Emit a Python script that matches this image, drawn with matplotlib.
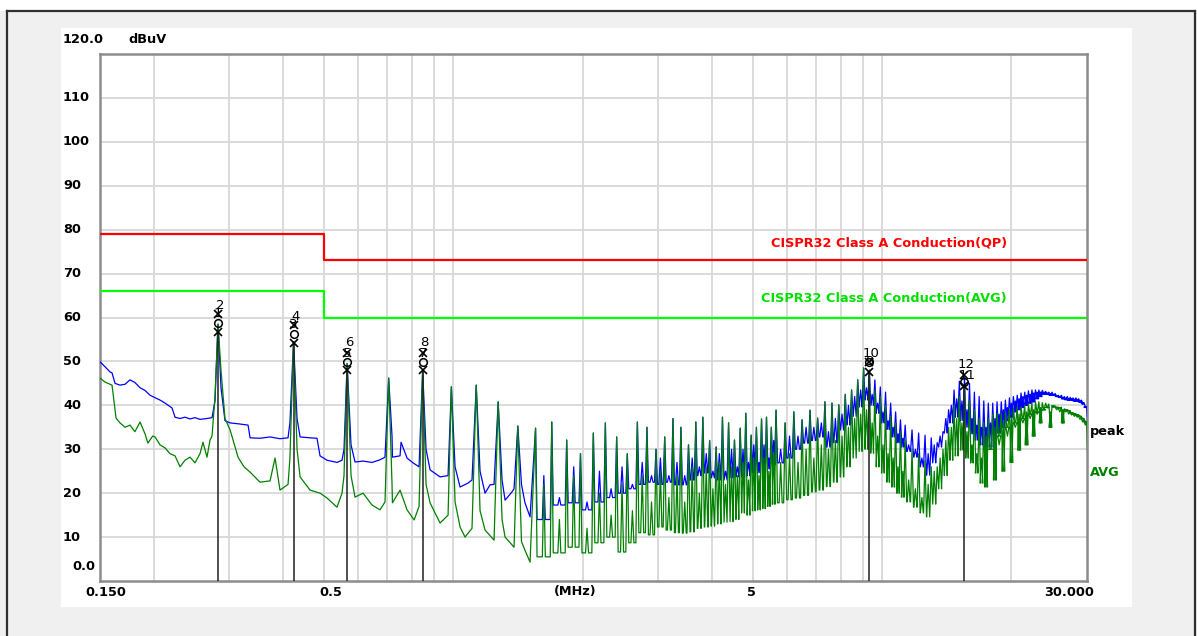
import matplotlib
matplotlib.use('Agg')
import matplotlib.pyplot as plt
from matplotlib import transforms
from matplotlib.lines import Line2D
from matplotlib.patches import Rectangle
from matplotlib.ticker import NullLocator

# switching fundamental (MHz), read from the spike spacing
f0 = 0.1413

# 0.15 - 1.5 MHz, traced point by point (MHz, dBuV)
peak_lo_f = [0.150, 0.1541, 0.1583, 0.1600, 0.1626, 0.1670, 0.1716, 0.1762, 0.1809, 0.1860,
             0.1910, 0.1962, 0.2070, 0.2127, 0.2208, 0.2244, 0.2305, 0.2367, 0.2432, 0.2498,
             0.2566, 0.2664, 0.2737, 0.2781, 0.2826, 0.2872, 0.2934, 0.3016, 0.3147, 0.3321,
             0.3357, 0.3541, 0.3737, 0.3942, 0.4116, 0.4158, 0.4239, 0.4320, 0.4391, 0.4632,
             0.4808, 0.4887, 0.5073, 0.5353, 0.5499, 0.5559, 0.5652, 0.5772, 0.5897, 0.6157,
             0.6461, 0.6744, 0.6927, 0.7065, 0.7193, 0.7209, 0.7509, 0.7550, 0.7797, 0.8052,
             0.8316, 0.8478, 0.8634, 0.8823, 0.9308, 0.9717, 0.9891, 1.0089, 1.0365, 1.0817,
             1.1050, 1.1304, 1.1537, 1.1852, 1.2176, 1.2438, 1.2717, 1.2984, 1.3196, 1.3698,
             1.3848, 1.4130, 1.4411, 1.4685, 1.5090]
peak_lo_db = [49.9, 48.8, 47.6, 47.4, 45.0, 44.6, 44.8, 45.8, 45.2, 44.0,
              43.4, 42.3, 41.2, 40.5, 39.4, 37.3, 37.0, 37.3, 36.9, 37.2,
              36.8, 37.0, 37.2, 41.0, 58.5, 44.0, 36.5, 36.0, 35.8, 35.5,
              32.6, 32.5, 32.8, 32.4, 32.6, 36.0, 54.5, 37.0, 32.8, 32.6,
              32.5, 28.5, 27.5, 27.0, 27.5, 30.0, 49.5, 31.0, 27.1, 27.3,
              27.0, 27.6, 28.2, 46.2, 33.0, 28.2, 28.5, 31.6, 28.0, 26.9,
              26.0, 48.0, 30.0, 25.3, 23.7, 24.0, 44.2, 26.0, 21.4, 22.3,
              23.0, 44.6, 25.0, 20.0, 21.9, 22.0, 40.8, 23.0, 18.4, 20.3,
              21.0, 35.3, 22.0, 17.8, 14.6]

avg_lo_f = [0.150, 0.1541, 0.1600, 0.1617, 0.1635, 0.1670, 0.1716, 0.1762, 0.1809, 0.1860,
            0.1910, 0.1940, 0.1990, 0.2016, 0.2070, 0.2127, 0.2184, 0.2244, 0.2305, 0.2367,
            0.2432, 0.2498, 0.2566, 0.2607, 0.2664, 0.2708, 0.2737, 0.2781, 0.2826, 0.2872,
            0.2934, 0.3016, 0.3147, 0.3249, 0.3357, 0.3541, 0.3737, 0.3839, 0.3942, 0.4116,
            0.4158, 0.4239, 0.4320, 0.4391, 0.4632, 0.4887, 0.5073, 0.5353, 0.5499, 0.5559,
            0.5652, 0.5772, 0.5897, 0.6157, 0.6461, 0.6744, 0.6927, 0.7065, 0.7193, 0.7209,
            0.7509, 0.7797, 0.8100, 0.8316, 0.8478, 0.8634, 0.8823, 0.9308, 0.9717, 0.9891,
            1.0089, 1.0365, 1.0644, 1.1050, 1.1304, 1.1537, 1.1852, 1.2438, 1.2717, 1.2984,
            1.3196, 1.3848, 1.4130, 1.4411, 1.4685, 1.5090]
avg_lo_db = [46.2, 45.3, 44.6, 41.0, 37.1, 36.0, 35.0, 35.5, 34.0, 36.2,
             33.5, 31.4, 33.0, 32.8, 31.0, 30.3, 29.0, 28.5, 26.0, 27.5,
             28.2, 26.9, 29.0, 31.6, 28.2, 32.1, 33.0, 42.0, 58.5, 48.0,
             37.0, 34.4, 28.2, 26.0, 24.8, 22.5, 22.8, 28.0, 20.7, 22.0,
             28.0, 54.5, 30.0, 23.7, 20.7, 20.0, 18.9, 16.8, 20.0, 24.0,
             49.5, 24.0, 19.1, 20.0, 17.3, 16.2, 18.0, 46.2, 22.0, 17.8,
             20.7, 16.2, 13.9, 17.0, 48.0, 22.0, 17.8, 13.2, 15.0, 44.2,
             18.0, 12.3, 10.0, 12.0, 44.6, 16.0, 11.6, 9.3, 40.8, 14.0,
             10.0, 7.7, 35.3, 9.0, 7.0, 4.3]

# harmonics above 1.5 MHz (harmonic numbers of f0)
harm_n = [11, 12, 13, 14, 15, 16, 17, 18, 19, 20, 21, 22, 23, 24, 25,
          26, 27, 28, 29, 30, 31, 32, 33, 34, 35, 36, 37, 38, 39, 40,
          42, 44, 46, 48, 50, 52, 54, 56, 58, 60, 62, 64, 66, 68, 70,
          72, 74, 76, 78, 80, 83, 86, 89, 92, 95, 98, 101, 104, 107, 110,
          113, 116, 119, 122, 125, 128, 131, 134, 137, 140, 143, 146, 149, 152, 155,
          158, 161, 164, 167, 170, 173, 176, 179, 182, 185, 188, 191, 194, 197, 200,
          203, 206, 209, 212]
peak_top = [34.8, 36.2, 32.1, 29.0, 33.7, 36.0, 32.8, 29.0, 36.2, 35.0, 30.0, 32.8, 37.0, 35.0, 31.0,
            36.2, 37.3, 32.0, 30.5, 37.3, 36.0, 32.1, 34.8, 38.2, 33.2, 35.0, 36.9, 37.3, 35.0, 38.9,
            36.0, 38.5, 36.7, 38.9, 37.1, 40.8, 40.5, 40.1, 42.5, 43.5, 45.8, 48.5, 48.0, 45.8, 44.2,
            43.0, 40.5, 38.5, 36.7, 35.5, 34.4, 33.7, 33.2, 32.6, 31.5, 34.0, 39.0, 43.5, 45.5, 46.5,
            45.0, 43.0, 42.0, 41.0, 40.5, 40.5, 40.8, 40.8, 41.2, 41.7, 42.0, 42.3, 42.8, 43.0, 43.3,
            43.5, 43.5, 43.5, 43.4, 43.2, 43.0, 43.0, 42.7, 42.3, 42.3, 42.0, 42.0, 41.8, 41.7, 41.7,
            41.5, 41.2, 40.5, 39.6]
peak_valley = [14.0, 17.3, 17.8, 16.2, 18.0, 19.0, 20.0, 21.0, 22.0, 22.5, 22.0, 22.5, 21.9, 21.9, 23.0,
               24.0, 24.6, 23.5, 23.0, 23.0, 23.5, 23.7, 23.7, 24.0, 24.6, 24.6, 25.0, 25.5, 26.5, 26.9,
               28.0, 30.0, 31.4, 32.0, 32.8, 30.5, 31.5, 34.4, 35.5, 37.5, 39.6, 41.2, 40.0, 38.2, 36.0,
               34.5, 32.8, 31.5, 30.5, 29.5, 28.2, 26.0, 24.1, 26.9, 30.5, 33.7, 36.0, 37.3, 36.5, 35.0,
               33.5, 32.1, 31.0, 30.5, 30.5, 32.0, 33.7, 35.0, 36.5, 37.3, 38.5, 39.0, 39.5, 40.0, 40.5,
               40.8, 41.5, 42.0, 42.5, 42.5, 42.3, 42.3, 42.0, 41.8, 41.5, 41.3, 41.2, 41.2, 41.0, 41.0,
               40.8, 40.5, 39.6, 34.0]
# smaller bumps half way between the listed harmonics
peak_mid = [24.0, 19.0, 26.0, 18.0, 25.0, 21.0, 26.0, 22.0, 27.0, 24.0, 28.0, 24.0, 27.0, 24.0, 28.0,
            26.0, 29.0, 25.0, 29.0, 25.0, 30.0, 26.0, 30.0, 27.0, 31.0, 27.0, 31.0, 28.0, 32.0, 30.0,
            33.0, 33.0, 35.0, 35.0, 36.0, 34.0, 37.0, 38.0, 40.0, 42.0, 43.5, 44.0, 42.5, 40.5, 38.5,
            36.5, 35.0, 33.5, 32.5, 31.0, 30.0, 28.0, 29.0, 31.0, 33.0, 37.0, 40.0, 41.5, 41.0, 39.0,
            37.0, 35.5, 35.0, 35.0, 36.0, 37.0, 38.0, 39.0, 39.5, 40.5, 41.0, 41.5, 42.0, 42.3, 42.5,
            42.8, 43.0, 43.0, 43.0, 42.8, 42.6, 42.4, 42.1, 41.9, 41.7, 41.6, 41.5, 41.4, 41.3, 41.1,
            40.8, 40.2, 39.5]
avg_top = [34.8, 36.2, 32.1, 29.0, 33.7, 36.0, 32.8, 29.0, 36.2, 35.0, 30.0, 32.8, 37.0, 35.0, 31.0,
           36.2, 37.3, 32.0, 30.5, 37.3, 36.0, 32.1, 34.8, 38.2, 33.2, 35.0, 36.9, 37.3, 35.0, 38.9,
           36.0, 38.5, 36.7, 38.9, 37.1, 40.8, 40.5, 40.1, 42.5, 43.5, 45.8, 48.5, 48.0, 43.5, 42.0,
           40.0, 37.5, 36.0, 34.0, 32.0, 30.0, 29.0, 27.5, 26.0, 26.0, 30.0, 35.0, 40.0, 42.0, 44.0,
           41.2, 39.0, 37.0, 36.0, 37.0, 38.0, 38.2, 38.2, 38.5, 39.0, 39.4, 39.6, 39.6, 40.0, 40.3,
           40.5, 40.8, 40.8, 40.6, 40.5, 40.3, 40.0, 39.8, 39.6, 39.6, 39.2, 39.0, 38.5, 38.2, 38.0,
           37.8, 37.3, 36.7, 36.0]
avg_valley = [5.5, 6.4, 7.7, 6.4, 8.7, 10.0, 6.6, 8.7, 11.0, 10.5, 12.3, 11.6, 11.0, 10.9, 11.2,
              12.0, 12.3, 12.5, 13.0, 13.4, 13.5, 14.0, 15.5, 15.0, 16.0, 16.2, 16.5, 17.0, 17.5, 17.8,
              18.5, 18.9, 19.5, 20.3, 20.7, 21.5, 22.5, 23.7, 26.0, 28.0, 29.5, 30.0, 29.1, 26.0, 24.6,
              22.5, 21.4, 20.0, 19.1, 18.0, 16.8, 15.5, 14.6, 17.5, 21.0, 24.0, 27.5, 28.5, 29.8, 28.0,
              26.9, 24.6, 22.3, 21.4, 30.0, 23.0, 33.0, 25.0, 35.0, 27.0, 36.0, 29.8, 37.0, 31.0, 38.0,
              33.0, 38.5, 36.0, 39.0, 39.5, 35.0, 39.8, 39.5, 39.3, 36.0, 39.0, 38.8, 38.3, 38.0, 37.8,
              37.5, 37.0, 36.3, 24.6]
avg_mid = [22.0, 14.0, 24.0, 12.0, 20.0, 15.0, 22.0, 16.0, 24.0, 18.0, 25.0, 19.0, 24.0, 18.0, 26.0,
           20.0, 26.0, 21.0, 27.0, 22.0, 26.0, 24.0, 27.0, 23.0, 28.0, 24.0, 28.0, 25.0, 29.0, 27.0,
           29.0, 27.0, 30.0, 28.0, 31.0, 30.0, 32.0, 33.0, 35.0, 37.0, 38.0, 39.0, 36.0, 33.0, 31.0,
           29.0, 28.0, 26.0, 25.0, 23.0, 21.0, 19.0, 22.0, 25.0, 28.0, 32.0, 35.0, 37.0, 36.0, 34.0,
           31.0, 29.0, 28.0, 33.0, 30.0, 35.0, 31.0, 36.0, 33.0, 37.0, 35.0, 38.0, 36.0, 38.5, 37.0,
           39.0, 38.0, 39.5, 39.0, 39.5, 38.5, 39.5, 39.0, 38.5, 39.0, 38.5, 38.0, 37.8, 37.5, 37.3,
           36.8, 36.2, 35.5]

# limit lines
lim_f = [0.15, 0.5, 30.0]
qp_lim = [79, 73, 73]
avg_lim = [66, 60, 60]

# markers: frequency, number labels, stacked readings
mk_f = [0.283, 0.424, 0.565, 0.848, 9.33, 15.5]
mk_even = ['2', '4', '6', '8', '10', '12']
mk_odd = ['1', '3', '5', '7', '9', '11']
mk_label_db = [62.8, 60.3, 54.4, 54.2, 51.9, 49.2]
mk_x_hi = [60.8, 58.3, 51.9, 51.9, 49.9, 46.9]
mk_o = [58.7, 56.2, 49.9, 49.9, 49.9, 45.3]
mk_x_lo = [56.7, 54.2, 48.0, 48.0, 47.6, 44.5]

y_ticks = [10, 20, 30, 40, 50, 60, 70, 80, 90, 100, 110]
x_grid = [0.2, 0.3, 0.4, 0.5, 0.6, 0.7, 0.8, 0.9, 1, 2, 3, 4, 5, 6, 7, 8, 9, 10, 20]
x_labels = [(0.15, '0.150', 6), (0.5, '0.5', 7), (5, '5', -2), (30, '30.000', -18)]

SPIKE_W = 0.008  # half width of a spike, relative to its frequency


def build_trace(lo_f, lo_db, top, valley, mid):
    f = list(lo_f)
    d = list(lo_db)
    for i, n in enumerate(harm_n):
        fc = n * f0
        hw = fc * SPIKE_W
        if i > 0:
            f.append(fc - hw)
            d.append(valley[i - 1])
        f.append(fc)
        d.append(top[i])
        f.append(fc + hw)
        d.append(valley[i])
        if i < len(mid):
            fm = 0.5 * (n + harm_n[i + 1]) * f0
            hm = fm * SPIKE_W
            f += [fm - hm, fm, fm + hm]
            d += [valley[i], mid[i], valley[i]]
    return f, d


W, H = 1197, 636
fig = plt.figure(figsize=(W / 100, H / 100), dpi=100, facecolor='#f0f0f0')
plt.rcParams['font.family'] = ['DejaVu Sans']

# white strip above the window frame, white plot panel
fig.add_artist(Rectangle((0, 1 - 11 / H), 1, 11 / H, transform=fig.transFigure,
                         facecolor='white', edgecolor='none', zorder=0))
fig.add_artist(Rectangle((61 / W, 1 - 607 / H), (1132 - 61) / W, (607 - 28) / H,
                         transform=fig.transFigure, facecolor='white', edgecolor='none', zorder=0))
for xs, ys in [([7, 1195], [11, 11]), ([7, 7], [11, 636]), ([1195, 1195], [11, 636])]:
    fig.add_artist(Line2D([x / W for x in xs], [1 - y / H for y in ys],
                          color='#303030', lw=1.6, transform=fig.transFigure))

ax = fig.add_axes([100 / W, 1 - 581 / H, 987 / W, 527 / H])
ax.set_xscale('log')
ax.set_xlim(0.15, 30)
ax.set_ylim(0, 120)
ax.xaxis.set_minor_locator(NullLocator())
ax.set_xticks(x_grid)
ax.set_yticks(y_ticks)
ax.set_xticklabels([])
ax.set_yticklabels([])
ax.tick_params(length=0)
ax.grid(True, color='#d8d8d8', lw=1.3)
ax.set_axisbelow(True)
for sp in ax.spines.values():
    sp.set_color('#8c8c8c')
    sp.set_linewidth(1.8)

# traces
pf, pdb = build_trace(peak_lo_f, peak_lo_db, peak_top, peak_valley, peak_mid)
af, adb = build_trace(avg_lo_f, avg_lo_db, avg_top, avg_valley, avg_mid)
ax.plot(pf, pdb, color='#0000ff', lw=0.9, zorder=3)
ax.plot(af, adb, color='#008000', lw=0.9, zorder=4)

# limits
ax.plot(lim_f, qp_lim, color='#ff0000', lw=1.6, drawstyle='steps-post', zorder=5)
ax.plot(lim_f, avg_lim, color='#00ff00', lw=1.6, drawstyle='steps-post', zorder=5)
bold = dict(fontsize=9.3, fontweight='bold')
ax_y = transforms.blended_transform_factory(ax.transAxes, ax.transData)
ax.text(0.919, qp_lim[-1] + 4, 'CISPR32 Class A Conduction(QP)', color='#ff0000',
        transform=ax_y, ha='right', va='center', **bold)
ax.text(0.919, avg_lim[-1] + 4.4, 'CISPR32 Class A Conduction(AVG)', color='#00e000',
        transform=ax_y, ha='right', va='center', **bold)

# markers
for f, ev, od, ly, xh, o, xl in zip(mk_f, mk_even, mk_odd, mk_label_db, mk_x_hi, mk_o, mk_x_lo):
    ax.plot([f, f], [0, xl], color='#202020', lw=1.1, zorder=6)
    ax.annotate(od, (f, xh), xytext=(3 if len(od) > 1 else 0, 0), textcoords='offset pixels',
                ha='center', va='center', fontsize=9.5, zorder=7)
    ax.plot([f], [xh], marker='x', color='black', ms=5.5, mew=1.2, zorder=7)
    ax.plot([f], [o], marker='o', mfc='none', mec='black', ms=5.5, mew=1.1, zorder=7)
    ax.plot([f], [xl], marker='x', color='black', ms=5.5, mew=1.2, zorder=7)
    ax.annotate(ev, (f, ly), xytext=(2, 0), textcoords='offset pixels',
                ha='center', va='center', fontsize=9.5, zorder=8)

# y labels
ytr = transforms.blended_transform_factory(fig.transFigure, ax.transData)
for v in y_ticks:
    ax.text(63 / W, v, str(v), transform=ytr, ha='left', va='center', **bold)
ax.text(72 / W, 3.2, '0.0', transform=ytr, ha='left', va='center', **bold)
ax.text(63 / W, 123.2, '120.0', transform=ytr, ha='left', va='center', **bold)
ax.text(128 / W, 123.2, 'dBuV', transform=ytr, ha='left', va='center', **bold)

# x labels
for f, s, dx in x_labels:
    ax.annotate(s, (f, 0), xycoords=('data', 'axes fraction'), xytext=(dx, -11),
                textcoords='offset pixels', ha='center', va='center', annotation_clip=False, **bold)
ax.annotate('(MHz)', (0.481, 0), xycoords='axes fraction', xytext=(0, -11),
            textcoords='offset pixels', ha='center', va='center', **bold)

# trace names at the right edge
ax.annotate('peak', (30, pdb[-1]), xytext=(3, 0), textcoords='offset pixels',
            ha='left', va='center', color='black', annotation_clip=False, **bold)
ax.annotate('AVG', (30, adb[-1]), xytext=(3, 0), textcoords='offset pixels',
            ha='left', va='center', color='#008000', annotation_clip=False, **bold)

fig.savefig('out.png', dpi=100, facecolor=fig.get_facecolor())
